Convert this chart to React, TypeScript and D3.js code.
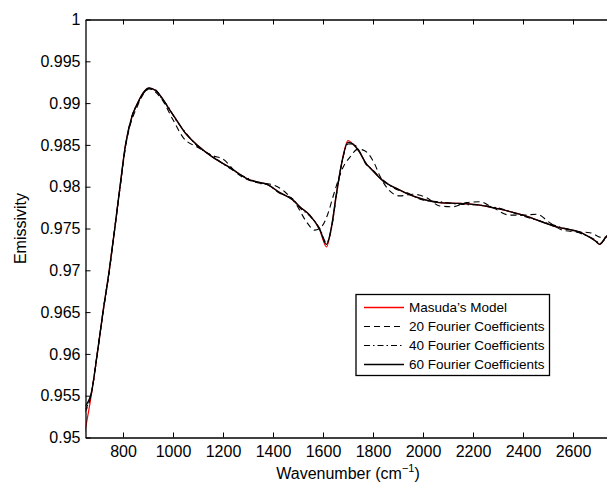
import React, { useEffect, useRef } from "react";
import * as d3 from "d3";

// Masuda's model (red) and the 40/60-coefficient reconstructions share this grid
const wnModel = [
  647, 673, 697, 720, 745, 767, 788, 810, 835, 860, 880, 905, 930, 954, 980, 1007,
  1047, 1100, 1160, 1227, 1307, 1347, 1374, 1427, 1480, 1507, 1547, 1587, 1614,
  1634, 1654, 1674, 1700, 1720, 1745, 1774, 1787, 1840, 1900, 1934, 2000, 2067,
  2147, 2227, 2294, 2400, 2534, 2640, 2690, 2707, 2727, 2750,
];
const masuda = [
  0.9506, 0.9550, 0.9600, 0.9650, 0.9700, 0.9750, 0.9800, 0.9850, 0.9883, 0.9901,
  0.9912, 0.9918, 0.9915, 0.9907, 0.9895, 0.9883, 0.9865, 0.9849, 0.9835, 0.9823,
  0.9808, 0.9805, 0.9803, 0.9793, 0.9784, 0.9776, 0.9766, 0.9748, 0.9728, 0.9752,
  0.9792, 0.9827, 0.9855, 0.9851, 0.9842, 0.9827, 0.9823, 0.9807, 0.9797, 0.9792,
  0.9785, 0.9781, 0.9780, 0.9778, 0.9774, 0.9766, 0.9752, 0.9744, 0.9735, 0.9731,
  0.9738, 0.9746,
];
const coef60 = [
  0.9537, 0.9553, 0.9600, 0.9650, 0.9700, 0.9750, 0.9800, 0.9850, 0.9883, 0.9901,
  0.9912, 0.9918, 0.9915, 0.9907, 0.9895, 0.9883, 0.9865, 0.9849, 0.9835, 0.9823,
  0.9808, 0.9805, 0.9803, 0.9793, 0.9784, 0.9776, 0.9766, 0.9749, 0.9731, 0.9752,
  0.9792, 0.9827, 0.9853, 0.9851, 0.9842, 0.9827, 0.9823, 0.9807, 0.9797, 0.9792,
  0.9785, 0.9781, 0.9780, 0.9778, 0.9774, 0.9766, 0.9752, 0.9744, 0.9735, 0.9731,
  0.9738, 0.9746,
];
const coef40 = [
  0.9533, 0.9552, 0.9599, 0.9651, 0.9699, 0.9751, 0.9799, 0.9849, 0.9884, 0.9900,
  0.9911, 0.9917, 0.9916, 0.9906, 0.9896, 0.9882, 0.9866, 0.9848, 0.9836, 0.9822,
  0.9809, 0.9804, 0.9803, 0.9792, 0.9785, 0.9775, 0.9765, 0.9750, 0.9733, 0.9750,
  0.9790, 0.9826, 0.9851, 0.9851, 0.9843, 0.9826, 0.9823, 0.9808, 0.9796, 0.9793,
  0.9784, 0.9782, 0.9779, 0.9778, 0.9775, 0.9765, 0.9753, 0.9743, 0.9736, 0.9732,
  0.9737, 0.9746,
];

// 20-coefficient reconstruction (dashed) has its own ripple
const wn20 = [
  647, 673, 697, 720, 745, 767, 788, 810, 860, 905, 954, 1000, 1040, 1100, 1160,
  1200, 1260, 1334, 1390, 1447, 1490, 1534, 1567, 1594, 1620, 1640, 1660, 1680,
  1707, 1740, 1767, 1807, 1827, 1867, 1907, 1959, 2014, 2067, 2119, 2174, 2227,
  2279, 2347, 2399, 2455, 2507, 2559, 2615, 2667, 2719, 2750,
];
const coef20 = [
  0.9530, 0.9552, 0.9601, 0.9649, 0.9698, 0.9749, 0.9798, 0.9847, 0.9898, 0.9917,
  0.9905, 0.9880, 0.9859, 0.9847, 0.9837, 0.9833, 0.9815, 0.9805, 0.9803, 0.9794,
  0.9780, 0.9758, 0.9748, 0.9752, 0.9768, 0.9788, 0.9807, 0.9823, 0.9835, 0.9845,
  0.9843, 0.9827, 0.9813, 0.9795, 0.9789, 0.9791, 0.9787, 0.9777, 0.9776, 0.9781,
  0.9782, 0.9775, 0.9766, 0.9766, 0.9767, 0.9757, 0.9748, 0.9746, 0.9745, 0.9739,
  0.9744,
];

const xTicks = [800, 1000, 1200, 1400, 1600, 1800, 2000, 2200, 2400, 2600];
const yTicks = [0.95, 0.955, 0.96, 0.965, 0.97, 0.975, 0.98, 0.985, 0.99, 0.995, 1];
const legendLabels = [
  "Masuda\u2019s Model",
  "20 Fourier Coefficients",
  "40 Fourier Coefficients",
  "60 Fourier Coefficients",
];

const WIDTH = 607;
const HEIGHT = 483;
const LEFT = 85.5;
const RIGHT = 610.5;
const TOP = 19.5;
const BOTTOM = 437.5;
const FONT = "'Liberation Sans', Arial, Helvetica, sans-serif";

export default function App() {
  const ref = useRef<SVGSVGElement>(null);

  useEffect(() => {
    const svg = d3.select(ref.current);
    svg.selectAll("*").remove();

    const x = d3.scaleLinear().domain([650, 2750]).range([LEFT, RIGHT]);
    const y = d3.scaleLinear().domain([0.95, 1]).range([BOTTOM, TOP]);

    svg
      .append("defs")
      .append("clipPath")
      .attr("id", "plot-clip")
      .append("rect")
      .attr("x", LEFT)
      .attr("y", TOP)
      .attr("width", RIGHT - LEFT)
      .attr("height", BOTTOM - TOP);

    const line = d3
      .line<[number, number]>()
      .x((d) => x(d[0]))
      .y((d) => y(d[1]))
      .curve(d3.curveMonotoneX);

    const zip = (ws: number[], vs: number[]) =>
      ws.map((w, i) => [w, vs[i]] as [number, number]);

    const series = [
      { data: zip(wnModel, masuda), color: "#ff0000", dash: null, width: 1.2 },
      { data: zip(wn20, coef20), color: "#000", dash: "6,4", width: 1.1 },
      { data: zip(wnModel, coef40), color: "#000", dash: "6,3,1.5,3", width: 1.1 },
      { data: zip(wnModel, coef60), color: "#000", dash: null, width: 1.4 },
    ];

    const plot = svg.append("g").attr("clip-path", "url(#plot-clip)");
    series.forEach((s) => {
      plot
        .append("path")
        .attr("d", line(s.data))
        .attr("fill", "none")
        .attr("stroke", s.color)
        .attr("stroke-width", s.width)
        .attr("stroke-dasharray", s.dash);
    });

    // axes: bottom/left with labels, top mirrored, ticks pointing in
    const xBottom = d3
      .axisBottom(x)
      .tickValues(xTicks)
      .tickSizeInner(-5)
      .tickSizeOuter(0)
      .tickPadding(8)
      .tickFormat(d3.format("d"));
    const xTop = d3.axisTop(x).tickValues(xTicks).tickSizeInner(-5).tickSizeOuter(0).tickFormat(() => "");
    const yLeft = d3
      .axisLeft(y)
      .tickValues(yTicks)
      .tickSizeInner(-5)
      .tickSizeOuter(0)
      .tickPadding(5)
      .tickFormat((d) => String(+(+d).toFixed(3)));

    const styleAxis = (g: d3.Selection<SVGGElement, unknown, null, undefined>) => {
      g.selectAll(".domain").attr("stroke", "#000").attr("stroke-width", 1.3);
      g.selectAll(".tick line").attr("stroke", "#000");
      g.selectAll("text").attr("font-family", FONT).attr("font-size", 16).attr("fill", "#000");
    };

    svg.append("g").attr("transform", `translate(0,${BOTTOM})`).call(xBottom).call(styleAxis);
    svg.append("g").attr("transform", `translate(0,${TOP})`).call(xTop).call(styleAxis);
    svg.append("g").attr("transform", `translate(${LEFT},0)`).call(yLeft).call(styleAxis);

    // axis titles
    const xTitle = svg
      .append("text")
      .attr("x", (LEFT + RIGHT) / 2)
      .attr("y", 479)
      .attr("text-anchor", "middle")
      .attr("font-family", FONT)
      .attr("font-size", 16);
    xTitle.append("tspan").text("Wavenumber (cm");
    xTitle.append("tspan").attr("dy", -7).attr("font-size", 11).text("\u22121");
    xTitle.append("tspan").attr("dy", 7).text(")");

    svg
      .append("text")
      .attr("transform", `translate(26,${(TOP + BOTTOM) / 2}) rotate(-90)`)
      .attr("text-anchor", "middle")
      .attr("font-family", FONT)
      .attr("font-size", 16)
      .text("Emissivity");

    // legend
    const legend = svg.append("g");
    legend
      .append("rect")
      .attr("x", 356)
      .attr("y", 294.5)
      .attr("width", 193.5)
      .attr("height", 81)
      .attr("fill", "#fff")
      .attr("stroke", "#000")
      .attr("stroke-width", 1.3);

    series.forEach((s, i) => {
      const ly = 307.5 + i * 19;
      legend
        .append("line")
        .attr("x1", 364)
        .attr("x2", 404)
        .attr("y1", ly)
        .attr("y2", ly)
        .attr("stroke", s.color)
        .attr("stroke-width", i === 0 ? 1.6 : s.width)
        .attr("stroke-dasharray", s.dash);
      legend
        .append("text")
        .attr("x", 409)
        .attr("y", ly)
        .attr("dy", "0.35em")
        .attr("font-family", FONT)
        .attr("font-size", 13.5)
        .text(legendLabels[i]);
    });
  }, []);

  return (
    <svg
      ref={ref}
      width={WIDTH}
      height={HEIGHT}
      style={{ position: "absolute", left: 0, top: 0, background: "#fff" }}
    ></svg>
  );
}
